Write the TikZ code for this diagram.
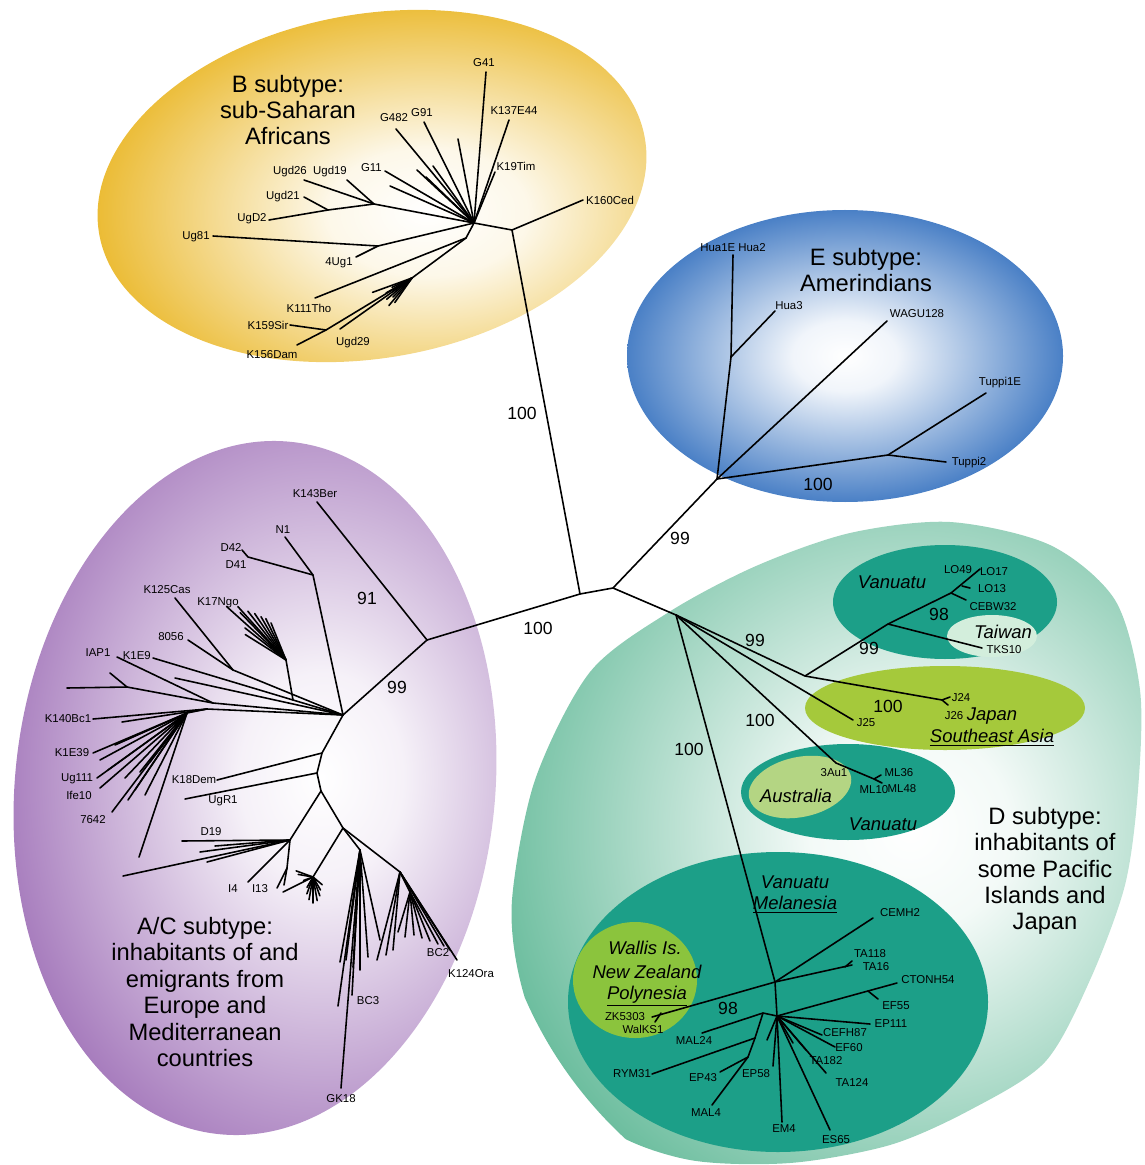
\documentclass[tikz,border=0pt]{standalone}
\usepackage{fontspec}
\setmainfont{Liberation Sans}
\usetikzlibrary{positioning}
\definecolor{bgold}{HTML}{E9B41E}
\definecolor{eblue}{HTML}{4A80C6}
\definecolor{acpurple}{HTML}{A072B8}
\definecolor{dgreen}{HTML}{6DBE9F}
\definecolor{islteal}{HTML}{1C9F88}
\definecolor{japgreen}{HTML}{A5C93B}
\definecolor{taiwanmint}{HTML}{D3EEDC}
\definecolor{ausgreen}{HTML}{B4D583}
\definecolor{wallisgreen}{HTML}{8BC43D}
\colorlet{bgoldlt}{bgold!10!white}
\colorlet{ebluelt}{eblue!8!white}
\colorlet{acpurplelt}{acpurple!10!white}
\colorlet{dgreenlt}{dgreen!8!white}
\pgfdeclareradialshading{glowB}{\pgfpointorigin}{color(0bp)=(white); color(7bp)=(bgoldlt); color(25bp)=(bgold); color(50bp)=(bgold)}
\pgfdeclareradialshading{glowE}{\pgfpointorigin}{color(0bp)=(white); color(6bp)=(ebluelt); color(25bp)=(eblue); color(50bp)=(eblue)}
\pgfdeclareradialshading{glowAC}{\pgfpointorigin}{color(0bp)=(white); color(6bp)=(acpurplelt); color(25bp)=(acpurple); color(50bp)=(acpurple)}
\pgfdeclareradialshading{glowD}{\pgfpointorigin}{color(0bp)=(white); color(6bp)=(dgreenlt); color(25bp)=(dgreen); color(50bp)=(dgreen)}
\tikzset{
  branch/.style={line width=0.9pt, line cap=round, line join=round},
  leaf/.style={font=\fontsize{6.5}{7}\selectfont, inner sep=0.5pt},
  boot/.style={font=\fontsize{10}{11}\selectfont, inner sep=0pt},
  region/.style={font=\fontsize{10.5}{12}\selectfont\itshape, inner sep=0pt},
  subtype/.style={font=\fontsize{13.5}{15}\selectfont, align=center, inner sep=0pt},
}
\begin{document}
\begin{tikzpicture}[x=0.02cm, y=-0.02cm]
\useasboundingbox (0,0) rectangle (1144,1165);
% clouds
\begin{scope}
  \clip[rotate around={10:(372,186)}] (372,186) ellipse [x radius=277, y radius=172];
  \shade[shading=glowB, rotate around={10:(372,186)}] (425,205) ellipse [x radius=345, y radius=215];
\end{scope}
\shade[shading=glowE] (845,356) ellipse [x radius=218, y radius=146];
\begin{scope}
  \clip[rotate around={-6:(255,788)}] (255,788) ellipse [x radius=240, y radius=348];
  \shade[shading=glowAC, rotate around={-6:(255,788)}] (320,770) ellipse [x radius=320, y radius=420];
\end{scope}
\begin{scope}
  \clip plot[smooth cycle] coordinates {(512,900) (535,780) (590,672) (669,612) (756,566) (850,533) (950,522) (1050,545) (1115,600) (1140,690) (1138,790) (1125,885) (1090,980) (1045,1062) (970,1110) (890,1145) (790,1163) (690,1160) (610,1130) (550,1060) (520,980)};
  \shade[shading=glowD] (910,830) circle [radius=420];
\end{scope}
\fill[islteal] (945,602) ellipse [x radius=112, y radius=57];
\fill[taiwanmint] (992,636) ellipse [x radius=45, y radius=21];
\fill[japgreen] (945,708) ellipse [x radius=140, y radius=42];
\fill[islteal] (848,792) ellipse [x radius=107, y radius=48];
\fill[ausgreen, rotate around={12:(800,787)}] (800,787) ellipse [x radius=52, y radius=30];
\fill[islteal] (778,1002) ellipse [x radius=210, y radius=150];
\fill[wallisgreen] (635,980) ellipse [x radius=62, y radius=58];

% subtype titles
\node[subtype] (titleB) at (288,110) {B subtype:\\sub-Saharan\\Africans};
\node[subtype] (titleE) at (866,270) {E subtype:\\Amerindians};
\node[subtype] (titleAC) at (205,992) {A/C subtype:\\inhabitants of and\\emigrants from\\Europe and\\Mediterranean\\countries};
\node[subtype] (titleD) at (1045,871) {D subtype:\\inhabitants of\\some Pacific\\Islands and\\Japan};

% backbone
\coordinate (c0) at (580,594);
\coordinate (c1) at (613,588);
\coordinate (rB) at (512,230);
\coordinate (rE) at (717,479);
\coordinate (rA) at (427,640);
\coordinate (rD) at (676,615);
\draw[branch] (rB) -- (c0) -- (c1) -- (rE);
\draw[branch] (c0) -- (rA);
\draw[branch] (c1) -- (rD);
\node[boot] (bsB) at (522,413) {100};
\node[boot] (bsA) at (538,628) {100};
\node[boot] (bsE) at (680,538) {99};

% B subtype
\coordinate (nB) at (474,223);
\coordinate (nL) at (466,238);
\coordinate (nU) at (374,204);
\coordinate (n21) at (328,210);
\coordinate (n81) at (378,246);
\coordinate (bushB) at (412,278);
\coordinate (nK) at (326,330);
\coordinate (k160) at (583,200);
\coordinate (g41) at (486,72);
\coordinate (k137) at (509,120);
\coordinate (k19) at (495,172);
\coordinate (g91) at (424,122);
\coordinate (g482) at (396,129);
\coordinate (g11) at (385,171);
\coordinate (u26) at (304,180);
\coordinate (u19) at (347,180);
\coordinate (u21) at (304,197);
\coordinate (ud2) at (269,220);
\coordinate (u81) at (213,236);
\coordinate (a4) at (356,257);
\coordinate (k111) at (315,298);
\coordinate (k159) at (290,325);
\coordinate (k156) at (297,345);
\coordinate (u29) at (340,329);
\node[leaf, anchor=west] (K160Ced) at (585,200) {K160Ced};
\node[leaf] (G41) at (484,63) {G41};
\node[leaf] (K137E44) at (514,111) {K137E44};
\node[leaf] (K19Tim) at (516,166) {K19Tim};
\node[leaf] (G91) at (422,113) {G91};
\node[leaf] (G482) at (394,118) {G482};
\node[leaf, anchor=east] (G11) at (383,168) {G11};
\node[leaf] (Ugd26) at (290,172) {Ugd26};
\node[leaf] (Ugd19) at (330,172) {Ugd19};
\node[leaf] (Ugd21) at (283,197) {Ugd21};
\node[leaf] (UgD2) at (252,219) {UgD2};
\node[leaf] (Ug81) at (196,237) {Ug81};
\node[leaf] (4Ug1) at (339,263) {4Ug1};
\node[leaf] (K111Tho) at (309,308) {K111Tho};
\node[leaf] (K159Sir) at (268,325) {K159Sir};
\node[leaf] (K156Dam) at (272,355) {K156Dam};
\node[leaf] (Ugd29) at (353,343) {Ugd29};
\draw[branch] (rB) -- (k160);
\draw[branch] (rB) -- (nB) -- (nL);
\foreach \e in {g41,k137,k19,g91,g482,g11}
  \draw[branch] (nB) -- (\e);
\foreach \p in {(458,139),(433,166),(417,170),(426,177),(390,186)}
  \draw[branch] (nB) -- \p;
\draw[branch] (nB) -- (nU) -- (u26);
\draw[branch] (nU) -- (u19);
\draw[branch] (nU) -- (n21) -- (u21);
\draw[branch] (n21) -- (ud2);
\draw[branch] (nB) -- (n81) -- (u81);
\draw[branch] (n81) -- (a4);
\draw[branch] (nL) -- (k111);
\draw[branch] (nL) -- (bushB) -- (nK) -- (k156);
\draw[branch] (nK) -- (k159);
\draw[branch] (bushB) -- (u29);
\foreach \a/\l in {125/30,130/36,135/27,140/33,145/24,150/30,155/22,160/42}
  \draw[branch] (bushB) -- ++(\a:\l);

% E subtype
\coordinate (hN) at (731,357);
\coordinate (tN) at (888,455);
\coordinate (hua) at (733,255);
\coordinate (h3) at (775,311);
\coordinate (wa) at (887,321);
\coordinate (t1) at (986,393);
\coordinate (t2) at (946,462);
\node[leaf] (Hua) at (733,248) {Hua1E Hua2};
\node[leaf] (Hua3) at (789,306) {Hua3};
\node[leaf] (WAGU128) at (917,314) {WAGU128};
\node[leaf] (Tuppi1E) at (1000,383) {Tuppi1E};
\node[leaf] (Tuppi2) at (969,463) {Tuppi2};
\draw[branch] (rE) -- (hN) -- (hua);
\draw[branch] (hN) -- (h3);
\draw[branch] (rE) -- (wa);
\draw[branch] (rE) -- (tN) -- (t1);
\draw[branch] (tN) -- (t2);
\node[boot] (bsT) at (818,484) {100};

% A/C subtype
\coordinate (a2) at (343,715);
\coordinate (a3) at (313,575);
\coordinate (dN) at (306,573);
\coordinate (k143) at (317,502);
\coordinate (n1) at (285,537);
\coordinate (d41) at (248,557);
\coordinate (d42) at (242,550);
\coordinate (k17a) at (286,660);
\coordinate (lcK) at (293,700);
\coordinate (k1e9) at (153,658);
\coordinate (lc1) at (233,670);
\coordinate (k125) at (175,598);
\coordinate (s8056) at (188,640);
\coordinate (lc2) at (213,703);
\coordinate (iap1) at (117,657);
\coordinate (lc3) at (127,687);
\coordinate (lc5) at (207,709);
\coordinate (k140) at (93,719);
\coordinate (ab) at (187,713);
\node[leaf] (K143Ber) at (315,494) {K143Ber};
\node[leaf] (N1) at (283,530) {N1};
\node[leaf] (D42) at (231,548) {D42};
\node[leaf] (D41) at (236,565) {D41};
\node[leaf] (K17Ngo) at (218,603) {K17Ngo};
\node[leaf] (K125Cas) at (167,590) {K125Cas};
\node[leaf] (8056) at (171,637) {8056};
\node[leaf, anchor=east] (K1E9) at (152,656) {K1E9};
\node[leaf] (IAP1) at (98,653) {IAP1};
\node[leaf] (K140Bc1) at (68,719) {K140Bc1};
\draw[branch] (rA) -- (k143);
\draw[branch] (rA) -- (a2) -- (a3) -- (n1);
\draw[branch] (a3) -- (dN) -- (d41) -- (d42);
\draw[branch] (a2) -- (lcK) -- (k1e9);
\draw[branch] (lcK) -- (k17a);
\foreach \a/\l in {228/72,222/80,232/62,236/56,240/50,244/46,226/66,218/52,212/48,248/40}
  \draw[branch] (k17a) -- ++(\a:\l);
\draw[branch] (a2) -- (lc1) -- (k125);
\draw[branch] (lc1) -- (s8056);
\draw[branch] (a2) -- (lc2) -- (iap1);
\draw[branch] (lc2) -- (lc3) -- (67,688);
\draw[branch] (lc3) -- (110,673);
\draw[branch] (a2) -- (175,678);
\draw[branch] (a2) -- (lc5) -- (k140);
\draw[branch] (lc5) -- (122,722);
% lower left bush
\coordinate (k1e39) at (93,753);
\coordinate (ug111) at (97,778);
\coordinate (ife10) at (100,788);
\coordinate (s7642) at (112,812);
\node[leaf] (K1E39) at (72,753) {K1E39};
\node[leaf] (Ug111) at (77,779) {Ug111};
\node[leaf] (Ife10) at (79,795) {Ife10};
\node[leaf] (7642) at (93,820) {7642};
\draw[branch] (lc5) -- (ab);
\foreach \e in {k1e39,ug111,ife10,s7642}
  \draw[branch] (ab) -- (\e);
\foreach \p in {(100,760),(115,745),(108,770),(125,778),(135,790),(140,772),(150,762),(128,800),(145,795),(160,748)}
  \draw[branch] (ab) -- \p;
\draw[branch] (ab) -- (139,857);
% K18Dem to BC2
\coordinate (kd) at (322,753);
\coordinate (kd2) at (317,773);
\coordinate (kd3) at (321,791);
\coordinate (k18) at (217,780);
\coordinate (ur1) at (185,799);
\coordinate (dn) at (290,840);
\coordinate (bn) at (343,828);
\coordinate (d19) at (182,841);
\coordinate (i4) at (248,882);
\coordinate (i13n) at (287,868);
\coordinate (i13) at (277,888);
\coordinate (sb) at (313,877);
\coordinate (bc3n) at (360,850);
\coordinate (gk18) at (341,1088);
\coordinate (bc3) at (352,995);
\coordinate (bc2n) at (400,872);
\coordinate (bc2s) at (410,892);
\coordinate (k124) at (457,960);
\node[leaf] (K18Dem) at (194,780) {K18Dem};
\node[leaf] (UgR1) at (223,801) {UgR1};
\node[leaf] (D19) at (211,832) {D19};
\node[leaf] (I4) at (233,889) {I4};
\node[leaf] (I13) at (260,889) {I13};
\node[leaf] (GK18) at (341,1099) {GK18};
\node[leaf] (BC3) at (368,1001) {BC3};
\node[leaf] (BC2) at (438,953) {BC2};
\node[leaf] (K124Ora) at (471,974) {K124Ora};
\draw[branch] (a2) -- (kd) -- (kd2) -- (kd3);
\draw[branch] (kd) -- (k18);
\draw[branch] (kd2) -- (ur1);
\draw[branch] (kd3) -- (dn) -- (d19);
\foreach \p in {(200,852),(207,862),(123,876),(215,846)}
  \draw[branch] (dn) -- \p;
\draw[branch] (dn) -- (i4);
\draw[branch] (dn) -- (i13n) -- (i13);
\draw[branch] (i13n) -- (284,885);
\draw[branch] (kd3) -- (bn) -- (sb);
\foreach \a/\l in {200/18,190/15,160/10,120/12,110/18,100/23,90/26,80/24,70/20,60/15,40/12}
  \draw[branch] (sb) -- ++(\a:\l);
\draw[branch] (sb) -- (283,892);
\draw[branch] (bn) -- (bc3n) -- (gk18);
\draw[branch] (bc3n) -- (bc3);
\foreach \p in {(340,962),(346,960),(353,967),(360,970),(368,957),(380,940),(338,1006)}
  \draw[branch] (bc3n) -- \p;
\draw[branch] (bn) -- (bc2n) -- (k124);
\foreach \p in {(377,960),(386,955),(393,950),(450,950),(444,946)}
  \draw[branch] (bc2n) -- \p;
\draw[branch] (bc2n) -- (bc2s);
\foreach \p in {(398,932),(405,937),(414,935),(422,938),(430,941),(438,944)}
  \draw[branch] (bc2s) -- \p;
\node[boot] (bs91) at (367,598) {91};
\node[boot] (bs99A) at (397,687) {99};

% D subtype
\coordinate (vj) at (805,676);
\coordinate (vn) at (888,624);
\coordinate (vn2) at (951,593);
\coordinate (lo17) at (980,569);
\coordinate (ceb) at (966,600);
\coordinate (tks) at (982,648);
\coordinate (j24n) at (942,700);
\coordinate (j25) at (853,720);
\coordinate (au) at (836,763);
\coordinate (mln) at (874,779);
\node[leaf] (LO49) at (958,570) {LO49};
\node[leaf] (LO17) at (994,572) {LO17};
\node[leaf] (LO13) at (992,589) {LO13};
\node[leaf] (CEBW32) at (993,607) {CEBW32};
\node[leaf] (TKS10) at (1004,650) {TKS10};
\node[leaf] (J24) at (961,698) {J24};
\node[leaf] (J26) at (954,716) {J26};
\node[leaf] (J25) at (866,723) {J25};
\node[leaf] (3Au1) at (834,773) {3Au1};
\node[leaf] (ML36) at (899,773) {ML36};
\node[leaf] (ML10) at (874,790) {ML10};
\node[leaf] (ML48) at (902,789) {ML48};
\draw[branch] (rD) -- (vj) -- (vn) -- (vn2) -- (lo17);
\draw[branch] (vn2) -- (ceb);
\draw[branch] (962,586) -- (970,588);
\draw[branch] (vn) -- (tks);
\draw[branch] (vj) -- (j24n) -- (950,697);
\draw[branch] (j24n) -- (948,705);
\draw[branch] (rD) -- (j25);
\draw[branch] (rD) -- (au) -- (mln) -- (881,775);
\draw[branch] (mln) -- (882,783);
\node[boot] (bs99D) at (755,640) {99};
\node[boot] (bs99V) at (869,648) {99};
\node[boot] (bs98V) at (939,614) {98};
\node[boot] (bs100J) at (888,706) {100};
\node[boot] (bs100M) at (760,720) {100};
\node[boot] (bs100L) at (689,749) {100};
% Melanesia
\coordinate (m0) at (775,982);
\coordinate (m1) at (777,1016);
\coordinate (cemh) at (873,918);
\coordinate (ta118) at (852,965);
\coordinate (zk) at (652,1017);
\coordinate (ml1) at (763,1013);
\coordinate (ml2) at (755,1038);
\coordinate (ml3) at (748,1057);
\coordinate (mal24) at (702,1033);
\coordinate (rym) at (652,1074);
\coordinate (ep43) at (720,1072);
\coordinate (mal4) at (712,1105);
\coordinate (ep58) at (773,1066);
\coordinate (em4) at (782,1122);
\coordinate (es65) at (830,1130);
\coordinate (ta124) at (826,1073);
\coordinate (ta182) at (806,1050);
\coordinate (ef60) at (835,1047);
\coordinate (cefh) at (822,1035);
\coordinate (ep111) at (870,1024);
\coordinate (ct) at (897,983);
\coordinate (ef55n) at (868,991);
\node[leaf] (CEMH2) at (900,913) {CEMH2};
\node[leaf] (TA118) at (870,954) {TA118};
\node[leaf] (TA16) at (876,967) {TA16};
\node[leaf] (ZK5303) at (625,1017) {ZK5303};
\node[leaf] (WalKS1) at (643,1029) {WalKS1};
\node[leaf] (MAL24) at (694,1041) {MAL24};
\node[leaf] (RYM31) at (632,1074) {RYM31};
\node[leaf] (EP43) at (703,1078) {EP43};
\node[leaf] (MAL4) at (706,1113) {MAL4};
\node[leaf] (EP58) at (756,1074) {EP58};
\node[leaf] (EM4) at (784,1129) {EM4};
\node[leaf] (ES65) at (836,1140) {ES65};
\node[leaf] (TA124) at (852,1082) {TA124};
\node[leaf] (TA182) at (826,1061) {TA182};
\node[leaf] (EF60) at (849,1048) {EF60};
\node[leaf] (CEFH87) at (845,1033) {CEFH87};
\node[leaf] (EP111) at (891,1024) {EP111};
\node[leaf] (CTONH54) at (928,980) {CTONH54};
\node[leaf] (EF55) at (896,1006) {EF55};
\draw[branch] (rD) -- (m0) -- (m1);
\draw[branch] (m0) -- (cemh);
\draw[branch] (m0) -- (ta118);
\draw[branch] (845,967) -- (852,961);
\draw[branch] (m0) -- (zk);
\draw[branch] (661,1013) -- (655,1022);
\draw[branch] (m1) -- (ml1) -- (mal24);
\draw[branch] (ml1) -- (ml2) -- (rym);
\draw[branch] (ml2) -- (ml3) -- (ep43);
\draw[branch] (ml3) -- (mal4);
\foreach \e in {ep58,em4,es65,ta124,ta182,ef60,cefh,ep111,ct}
  \draw[branch] (m1) -- (\e);
\draw[branch] (ef55n) -- (878,999);
\draw[branch] (m1) -- (767,1040);
\draw[branch] (m1) -- (793,1043);
\node[boot] (bs98W) at (728,1008) {98};

% island groups
\node[region] (vanA) at (892,582) {Vanuatu};
\node[region] (taiwan) at (1003,632) {Taiwan};
\node[region] (japan) at (992,716) {Japan};
\node[region] (sea) at (992,738) {\underline{Southeast Asia}};
\node[region] (austr) at (796,796) {Australia};
\node[region] (vanB) at (883,824) {Vanuatu};
\node[region] (vanC) at (795,882) {Vanuatu};
\node[region] (melan) at (795,905) {\underline{Melanesia}};
\node[region] (wallis) at (645,948) {Wallis Is.};
\node[region] (nz) at (647,972) {New Zealand};
\node[region] (poly) at (647,996) {\underline{Polynesia}};
\end{tikzpicture}
\end{document}
